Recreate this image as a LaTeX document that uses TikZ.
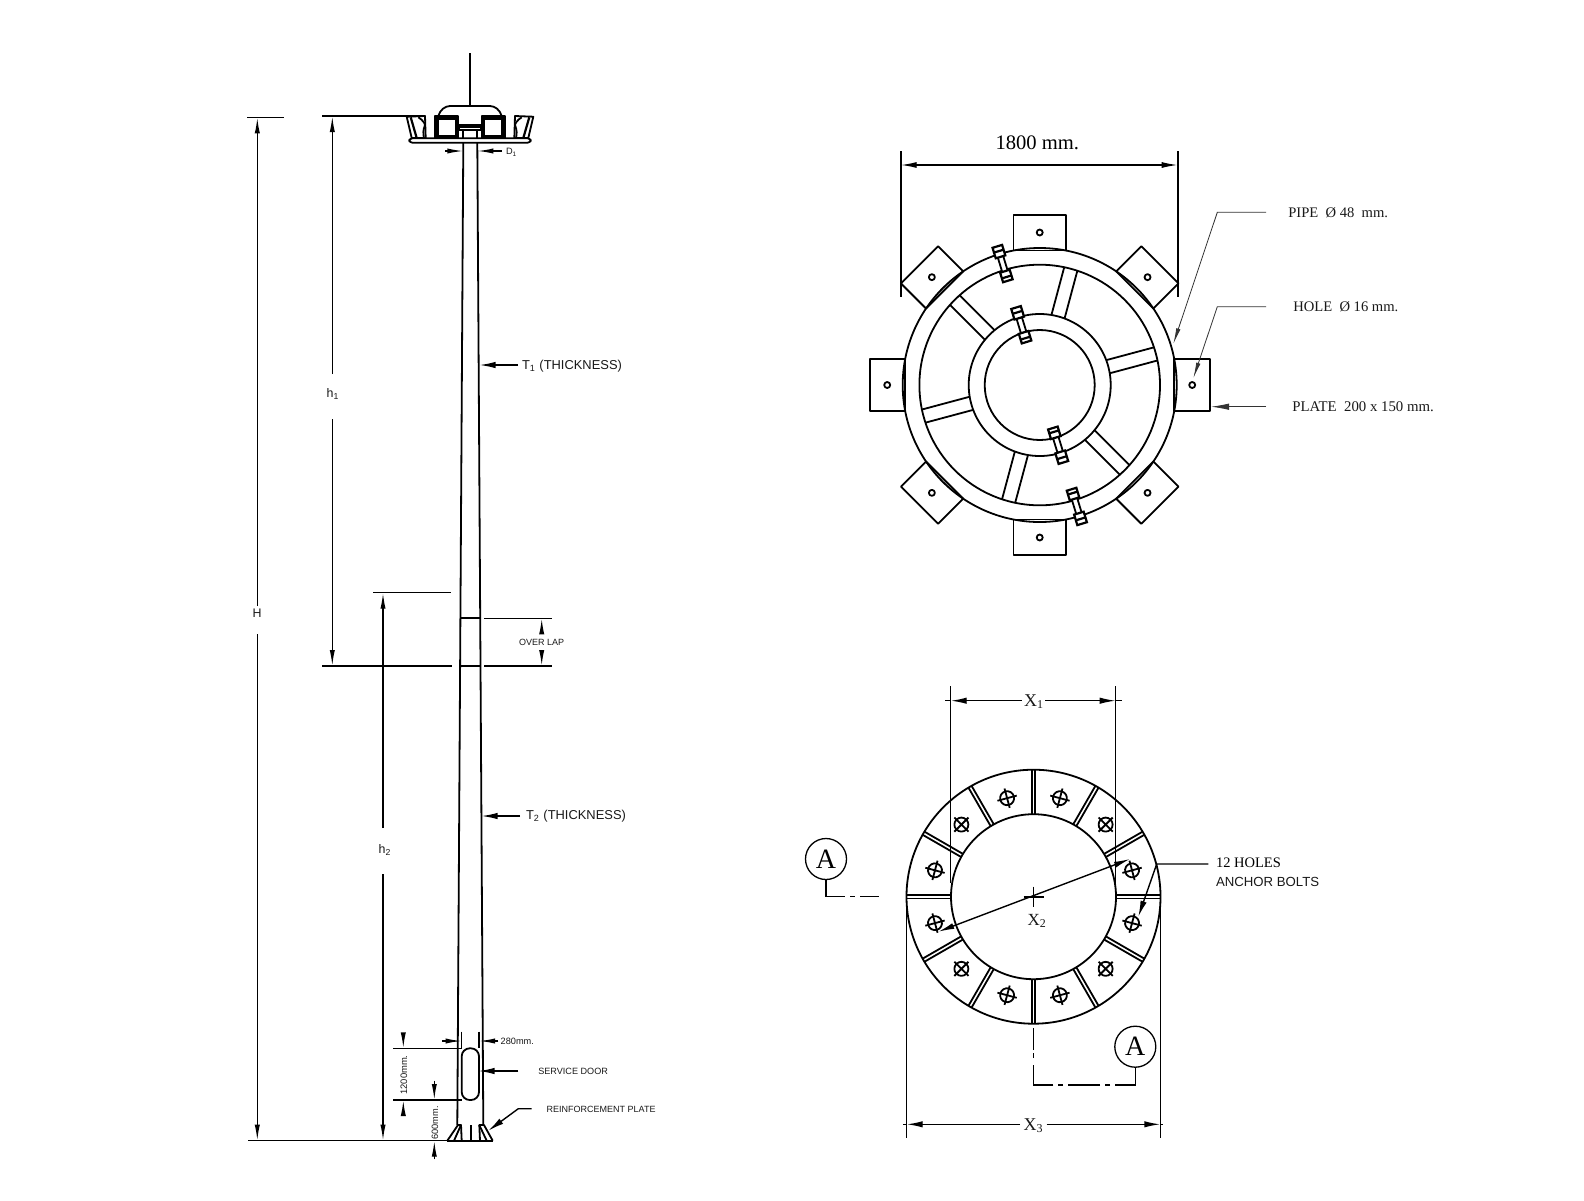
\documentclass[tikz,border=0pt]{standalone}
\usepackage{fontspec}
\setmainfont{Liberation Serif}
\setsansfont{Liberation Sans}
\usetikzlibrary{arrows.meta}
\newcommand{\ari}[1]{\sffamily\fontsize{#1}{#1}\selectfont}
\newcommand{\tim}[1]{\rmfamily\fontsize{#1}{#1}\selectfont}
\tikzset{
  main/.style={line width=0.9pt,black,line join=round},
  heavy/.style={line width=1.1pt,black,line join=miter},
  dimln/.style={line width=0.7pt,black},
  extln/.style={line width=0.75pt,black},
  thinln/.style={line width=0.4pt,black!80},
  tipL/.style={-{Latex[length=8pt,width=3.2pt]}},
  tipB/.style={{Latex[length=8pt,width=3pt]}-{Latex[length=8pt,width=3pt]}},
  tipS/.style={-{Latex[length=8pt,width=2.6pt]}},
  tipT/.style={-{Latex[length=8pt,width=2.2pt]}},
  txt/.style={inner sep=0pt,outer sep=0pt,anchor=west,text=black!90},
  ctxt/.style={inner sep=0pt,outer sep=0pt,anchor=center,text=black!90}
}
\begin{document}
\begin{tikzpicture}[x=0.5pt,y=-0.5pt]
\useasboundingbox (0,0) rectangle (1584,1200);
\fill[white] (0,0) rectangle (1584,1200);

%% ---------- pole ----------
\draw[main] (463.3,143) -- (457.3,1125);
\draw[main] (477.3,143) -- (483.3,1125);
\draw[main] (460.7,618.3) -- (480,618.3);
\draw[main] (460,666) -- (480.7,666);

%% head frame
\draw[line width=1.3pt] (470,53) -- (470,106);
\draw[main] (438.3,116) .. controls (440,110) and (445,106) .. (450,106) -- (490,106) .. controls (495,106) and (500,110) .. (501.7,116);
\draw[main,fill=white,rounded corners=1.5pt] (409.3,138.3) rectangle (530.7,142.7);
\draw[main] (459,125) rectangle (481,130);
\draw[main,fill=black!45] (459,125) rectangle (481,127);
\draw[main] (463.3,130) -- (463.3,138.3) (477.3,130) -- (477.3,138.3);
\foreach \sc/\sh in {1/0,-1/940}{
 \begin{scope}[shift={(\sh,0)},xscale=\sc]
  \draw[main,fill=white] (435,116) rectangle (458.3,138.3);
  \draw[heavy,line width=1.1pt] (437.5,118.5) rectangle (455.8,136);
  \draw[main,fill=white] (406.7,116.7) -- (425,116) -- (425.7,138) -- (411.7,138) -- cycle;
  \draw[heavy] (410.7,117.3) -- (416.7,138);
  \draw[main] (418.3,117.3) .. controls (423,120) and (425,124) .. (425,125) .. controls (423,130) and (423,134) .. (424,138);
 \end{scope}
}
\draw[extln] (322,116) -- (425,116);
\draw[dimln,tipS] (445,151) -- (463.3,151);
\draw[dimln,tipS] (501.7,151) -- (477.3,151);
\node[txt] (d1) at (506,152) {\ari{4.6}D\textsubscript{1}};

%% H dimension
\draw[extln] (247,117.3) -- (284,117.3);
\draw[extln] (248,1140.7) -- (493.3,1140.7);
\draw[dimln,tipS] (257.3,606) -- (257.3,117.3);
\draw[dimln,tipS] (257.3,634) -- (257.3,1140.7);
\node[ctxt] (H) at (257,613) {\ari{6.2}H};
%% h1
\draw[dimln,tipS] (332.3,374) -- (332.3,116);
\draw[dimln,tipS] (332.3,419) -- (332.3,666);
\node[ctxt] (h1) at (333,394) {\ari{6.2}h\textsubscript{1}};
\draw[extln] (322,666) -- (451.7,666);
\draw[extln] (484,666) -- (551.7,666);
\draw[extln] (373,592.7) -- (451,592.7);
\draw[extln] (484,618.3) -- (551.7,618.3);
%% h2
\draw[dimln,tipS] (383,828) -- (383,592.7);
\draw[dimln,tipS] (383,874) -- (383,1140.7);
\node[ctxt] (h2) at (385,850) {\ari{6.2}h\textsubscript{2}};
%% over lap
\draw[dimln,tipS] (541.7,633) -- (541.7,618.3);
\draw[dimln,tipS] (541.7,652) -- (541.7,666);
\node[ctxt] (ol) at (541.7,642.5) {\ari{4.5}OVER LAP};

%% thickness
\draw[dimln,tipL] (518,365) -- (479.5,365);
\node[txt] (t1) at (522,366) {\ari{6.45}T\textsubscript{1} (THICKNESS)};
\draw[dimln,tipL] (520,816) -- (481.5,816);
\node[txt] (t2) at (526,816) {\ari{6.45}T\textsubscript{2} (THICKNESS)};

%% door
\draw[main,rounded corners=4pt] (461.7,1048.3) rectangle (479,1100);
\draw[extln] (461.7,1031.7) -- (461.7,1048.3);
\draw[extln] (479,1031.7) -- (479,1048.3);
\draw[dimln,tipS] (442.3,1041) -- (461.7,1041);
\draw[dimln,tipS] (498.3,1041) -- (479,1041);
\node[txt] (d280) at (500.7,1041) {\ari{4.6}280mm.};
\draw[extln] (393.3,1048.3) -- (461.7,1048.3);
\draw[extln] (393.3,1100) -- (461.7,1100);
\draw[dimln,tipS] (403.3,1035) -- (403.3,1048.3);
\draw[dimln,tipS] (403.3,1113.3) -- (403.3,1100);
\node[ctxt,rotate=90] (d1200) at (404,1075) {\ari{4.7}1200mm.};
\draw[dimln,tipS] (434.3,1080.7) -- (434.3,1100);
\draw[dimln,tipS] (434.3,1159.3) -- (434.3,1140.7);
\node[ctxt,rotate=90] (d600) at (435,1123) {\ari{4.6}600mm.};
\draw[dimln,tipL] (518.3,1071) -- (478.5,1071);
\node[txt] (sd) at (538.3,1071) {\ari{4.55}SERVICE DOOR};
\node[txt] (rp) at (546.7,1109) {\ari{4.5}REINFORCEMENT PLATE};
\draw[dimln,tipL] (531.7,1108.7) -- (518.3,1108.7) -- (488.3,1130.7);

%% base gussets
\draw[line width=1.2pt] (446.7,1140.7) -- (493.3,1140.7);
\draw[main] (447.3,1140.7) -- (458,1125) -- (461,1125) -- (454,1140.7);
\draw[main] (461,1125) -- (461.7,1140.7);
\draw[main] (492.7,1140.7) -- (484,1125) -- (479.3,1125) -- (486.7,1140.7);
\draw[main] (479.3,1125) -- (480,1140.7);
\draw[main] (470.7,1125) -- (470.7,1140.7);

%% ---------- top plan ----------
\coordinate (C1) at (1039.7,385);
\foreach \k in {0,...,7}{
 \begin{scope}[shift={(C1)},rotate=45*\k]
  \draw[main,fill=white] (134.5,-26.3) -- (170,-26.3) -- (170,26.3) -- (134.5,26.3) -- cycle;
  \draw[main] (152.5,0) circle (3);
 \end{scope}
}
\foreach \k in {0,...,5}{
 \begin{scope}[shift={(C1)},rotate=15+60*\k]
  \draw[main] (70.7,-6.8) -- (120.1,-6.8) (70.7,6.8) -- (120.1,6.8);
 \end{scope}
}
\draw[main] (C1) circle (137);
\draw[main] (C1) circle (120.3);
\draw[main] (C1) circle (71);
\draw[main] (C1) circle (55);
\foreach \a/\r in {107/114,107/50,287/114,287/50}{
 \begin{scope}[shift={(C1)},rotate=\a]
  \draw[main,fill=white] (\r,-2.8) rectangle (\r+26,2.8);
  \draw[heavy,fill=white] (\r-5,-5) rectangle (\r+5,5);
  \draw[heavy,fill=white] (\r+20,-5) rectangle (\r+31,5);
  \draw[heavy] (\r-1,-5) -- (\r-1,5) (\r+26,-5) -- (\r+26,5);
 \end{scope}
}
\draw[extln,line width=0.95pt] (900.7,151) -- (900.7,296.7);
\draw[extln,line width=0.95pt] (1177.7,151) -- (1177.7,296.7);
\draw[dimln,tipB] (900.7,165) -- (1177.7,165);
\node[ctxt,text=black] (w1800) at (1037.3,142.7) {\tim{10.3}1800 mm.};

\draw[thinln,tipT] (1266,212.3) -- (1217.3,212.3) -- (1173.3,344);
\node[txt] (pipe) at (1288.3,212.3) {\tim{7.3}PIPE~~Ø 48~~mm.};
\draw[thinln,tipT] (1266,306.7) -- (1217.3,306.7) -- (1193.3,378.3);
\node[txt] (hole) at (1293.3,306.7) {\tim{7.3}HOLE~~Ø 16 mm.};
\draw[thinln,-{Latex[length=9pt,width=3.2pt]}] (1266,406.7) -- (1211,406.7);
\node[txt] (plate) at (1292.3,407) {\tim{7.4}PLATE~~200 x 150 mm.};

%% ---------- base plan ----------
\coordinate (C2) at (1033.5,896.7);
\foreach \k in {0,...,11}{
 \begin{scope}[shift={(C2)},rotate=30*\k]
  \draw[main] (82.5,-1.8) -- (127,-1.8) (82.5,1.8) -- (127,1.8);
 \end{scope}
 \begin{scope}[shift={(C2)},rotate=15+30*\k]
  \draw[main] (102,0) circle (7);
  \draw[main] (92,0) -- (112,0) (102,-10) -- (102,10);
 \end{scope}
}
\draw[main] (C2) circle (127);
\draw[main] (C2) circle (82.5);
\draw[main] (1023.5,896.7) -- (1043.5,896.7) (1033.5,886.7) -- (1033.5,906.7);
\node[ctxt] (x2) at (1037.3,921) {\tim{8.5}X\textsubscript{2}};
\draw[dimln,tipB] (938.3,931.7) -- (1130,859);

\draw[extln] (950.7,686) -- (950.7,883);
\draw[extln] (1115.7,686) -- (1115.7,883);
\draw[dimln,tipL] (1021.7,700.7) -- (950.7,700.7);
\draw[dimln,tipL] (1045,700.7) -- (1115.7,700.7);
\draw[dimln] (945,700.7) -- (950.7,700.7) (1115.7,700.7) -- (1121.7,700.7);
\node[ctxt] (x1) at (1034,702) {\tim{9}X\textsubscript{1}};

\draw[extln] (906.7,908) -- (906.7,1138);
\draw[extln] (1160.3,908) -- (1160.3,1138);
\draw[dimln,tipL] (1020,1124.3) -- (906.7,1124.3);
\draw[dimln,tipL] (1046.7,1124.3) -- (1160.3,1124.3);
\draw[dimln] (903,1124.3) -- (906.7,1124.3) (1160.3,1124.3) -- (1163,1124.3);
\node[ctxt] (x3) at (1033.5,1125.5) {\tim{9}X\textsubscript{3}};

\draw[dimln,tipL] (1208.3,864) -- (1156.7,864) -- (1138.3,916.7);
\node[txt,text=black] (holes) at (1216,862.5) {\tim{7.25}12 HOLES};
\node[txt] (bolts) at (1216,881.7) {\ari{6.6}ANCHOR BOLTS};

%% section marks
\node[circle,draw=black,line width=0.65pt,minimum size=20.5pt,inner sep=0pt,text=black] (A1) at (826,859) {\tim{14}A};
\draw[extln] (826,880) -- (826,896.7) -- (845,896.7) (850,896.7) -- (855,896.7) (860,896.7) -- (879.3,896.7);
\node[circle,draw=black,line width=0.65pt,minimum size=20.5pt,inner sep=0pt,text=black] (A2) at (1135.3,1046.7) {\tim{14}A};
\draw[extln] (1135.3,1068.3) -- (1135.3,1085) -- (1115,1085) (1110,1085) -- (1105,1085) (1100,1085) -- (1068.3,1085) (1063,1085) -- (1058,1085) (1053.3,1085) -- (1033.3,1085) -- (1033.3,1065) (1033.3,1058) -- (1033.3,1053) (1033.3,1050) -- (1033.3,1028);
\end{tikzpicture}
\end{document}
